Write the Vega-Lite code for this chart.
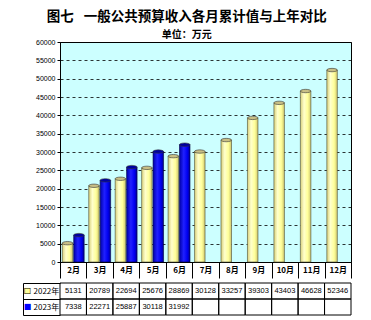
{
  "$schema": "https://vega.github.io/schema/vega-lite/v6.json",
  "padding": {"left": 21, "top": 10, "right": 0, "bottom": 0},
  "background": "white",
  "datasets": {
    "t": [
      {"month": "2月", "series": "2022年", "value": 5131},
      {"month": "3月", "series": "2022年", "value": 20789},
      {"month": "4月", "series": "2022年", "value": 22694},
      {"month": "5月", "series": "2022年", "value": 25676},
      {"month": "6月", "series": "2022年", "value": 28869},
      {"month": "7月", "series": "2022年", "value": 30128},
      {"month": "8月", "series": "2022年", "value": 33257},
      {"month": "9月", "series": "2022年", "value": 39303},
      {"month": "10月", "series": "2022年", "value": 43403},
      {"month": "11月", "series": "2022年", "value": 46628},
      {"month": "12月", "series": "2022年", "value": 52346},
      {"month": "2月", "series": "2023年", "value": 7338},
      {"month": "3月", "series": "2023年", "value": 22271},
      {"month": "4月", "series": "2023年", "value": 25887},
      {"month": "5月", "series": "2023年", "value": 30118},
      {"month": "6月", "series": "2023年", "value": 31992},
      {"month": "7月", "series": "2023年", "value": null},
      {"month": "8月", "series": "2023年", "value": null},
      {"month": "9月", "series": "2023年", "value": null},
      {"month": "10月", "series": "2023年", "value": null},
      {"month": "11月", "series": "2023年", "value": null},
      {"month": "12月", "series": "2023年", "value": null}
    ]
  },
  "title": {
    "text": "图七\u2002 一般公共预算收入各月累计值与上年对比",
    "subtitle": "单位：万元",
    "anchor": "middle",
    "frame": "bounds",
    "font": "Noto Sans CJK SC",
    "fontSize": 13.5,
    "fontWeight": "bold",
    "color": "#000",
    "subtitleFont": "Noto Sans CJK SC",
    "subtitleFontSize": 10,
    "subtitleFontWeight": "bold",
    "subtitleColor": "#000",
    "subtitlePadding": 6,
    "offset": -2
  },
  "spacing": 0,
  "vconcat": [
    {
      "width": 291,
      "height": 220,
      "view": {"fill": "#CCFFFF", "stroke": "#000", "strokeWidth": 1},
      "data": {"name": "t"},
      "transform": [{"filter": "isValid(datum.value)"}],
      "encoding": {
        "x": {
          "field": "month", "type": "nominal", "sort": null,
          "scale": {"domain": ["2月","3月","4月","5月","6月","7月","8月","9月","10月","11月","12月"], "paddingInner": 0, "paddingOuter": 0},
          "axis": {
            "title": null, "labelAngle": 0, "labelFontSize": 8, "labelFontWeight": "bold",
            "labelFont": "Noto Sans CJK SC", "labelColor": "#000",
            "tickBand": "extent", "tickSize": 16, "tickColor": "#000", "domainColor": "#000",
            "labelPadding": -8, "labelBaseline": "middle", "grid": false,
            "minExtent": 16, "maxExtent": 16
          }
        },
        "xOffset": {
          "field": "series", "type": "nominal",
          "scale": {"domain": ["2022年", "2023年"], "paddingInner": 0.08, "paddingOuter": 0.2}
        },
        "y": {
          "field": "value", "type": "quantitative",
          "scale": {"domain": [0, 60000], "nice": false},
          "axis": {
            "title": null,
            "values": [0,5000,10000,15000,20000,25000,30000,35000,40000,45000,50000,55000,60000],
            "format": "d",
            "labelFontSize": 7, "labelFont": "Liberation Sans", "labelColor": "#000",
            "tickSize": 3, "tickColor": "#000", "domainColor": "#000", "labelPadding": 2,
            "grid": true, "gridColor": "#000", "gridDash": [3, 3], "gridWidth": 0.8,
            "minExtent": 38, "maxExtent": 38
          }
        }
      },
      "layer": [
        {
          "transform": [{"filter": "datum.series == '2022年'"}],
          "mark": {
            "type": "bar",
            "fill": {"gradient": "linear", "x1": 0, "x2": 1, "y1": 0, "y2": 0,
              "stops": [
                {"offset": 0, "color": "#D8D07A"},
                {"offset": 0.35, "color": "#FFFFCC"},
                {"offset": 0.7, "color": "#FFFF99"},
                {"offset": 1, "color": "#CFC770"}
              ]},
            "stroke": "#4a4a30", "strokeWidth": 0.6
          }
        },
        {
          "transform": [{"filter": "datum.series == '2023年'"}],
          "mark": {
            "type": "bar",
            "fill": {"gradient": "linear", "x1": 0, "x2": 1, "y1": 0, "y2": 0,
              "stops": [
                {"offset": 0, "color": "#0000A8"},
                {"offset": 0.4, "color": "#2020FF"},
                {"offset": 0.75, "color": "#0000F0"},
                {"offset": 1, "color": "#000090"}
              ]},
            "stroke": "#000040", "strokeWidth": 0.6
          }
        },
        {
          "mark": {
            "type": "point",
            "shape": "M-1,0 A1,0.32 0 1,0 1,0 A1,0.32 0 1,0 -1,0 Z",
            "filled": true, "size": 112, "opacity": 1,
            "stroke": "#333", "strokeWidth": 0.6
          },
          "encoding": {
            "fill": {
              "field": "series", "type": "nominal",
              "scale": {"domain": ["2022年", "2023年"], "range": ["#C8BF85", "#0000A0"]},
              "legend": null
            }
          }
        }
      ]
    },
    {
      "width": 291,
      "height": 32,
      "view": {"stroke": null},
      "data": {"name": "t"},
      "encoding": {
        "x": {
          "field": "month", "type": "nominal", "sort": null,
          "scale": {"domain": ["2月","3月","4月","5月","6月","7月","8月","9月","10月","11月","12月"], "paddingInner": 0, "paddingOuter": 0},
          "axis": null
        }
      },
      "layer": [
        {
          "mark": {"type": "rect", "fill": "transparent", "stroke": "#000", "strokeWidth": 1},
          "encoding": {
            "y": {
              "field": "series", "type": "nominal",
              "scale": {"domain": ["2022年", "2023年"], "paddingInner": 0, "paddingOuter": 0},
              "axis": {
                "orient": "left", "title": null, "offset": 37,
                "tickSize": -37, "tickBand": "extent", "tickColor": "#000", "domainColor": "#000",
                "labelAlign": "left", "labelPadding": 27, "labelFontSize": 8,
                "labelFont": "Noto Sans CJK SC", "labelColor": "#000", "grid": false,
                "minExtent": 0, "maxExtent": 0
              }
            }
          }
        },
        {
          "transform": [{"filter": "isValid(datum.value)"}],
          "mark": {"type": "text", "fontSize": 7.5, "font": "Liberation Sans", "color": "#000"},
          "encoding": {
            "y": {
              "field": "series", "type": "nominal",
              "scale": {"domain": ["2022年", "2023年"], "paddingInner": 0, "paddingOuter": 0},
              "axis": {
                "orient": "left", "title": null, "ticks": false, "domain": false,
                "labelExpr": "'■'",
                "labelColor": {"condition": {"test": "datum.value == '2022年'", "value": "#FFFF99"}, "value": "#0000FF"},
                "labelFontSize": 8, "labelFont": "DejaVu Sans", "labelAlign": "center",
                "labelPadding": 33, "grid": false, "minExtent": 0, "maxExtent": 0
              }
            },
            "text": {"field": "value", "type": "quantitative", "format": "d"}
          }
        },
        {
          "transform": [{"filter": "datum.series == '2022年' && datum.month == '2月'"}],
          "mark": {"type": "rect", "fill": "transparent", "strokeOpacity": 0},
          "encoding": {
            "y": {
              "field": "series", "type": "nominal",
              "scale": {"domain": ["2022年", "2023年"], "paddingInner": 0, "paddingOuter": 0},
              "axis": {
                "orient": "left", "title": null, "ticks": false, "domain": false,
                "values": ["2022年"],
                "labelExpr": "'□'",
                "labelColor": "#000",
                "labelFontSize": 8, "labelFont": "DejaVu Sans", "labelAlign": "center",
                "labelPadding": 33, "grid": false, "minExtent": 0, "maxExtent": 0
              }
            }
          }
        }
      ],
      "resolve": {"axis": {"y": "independent"}}
    }
  ]
}
